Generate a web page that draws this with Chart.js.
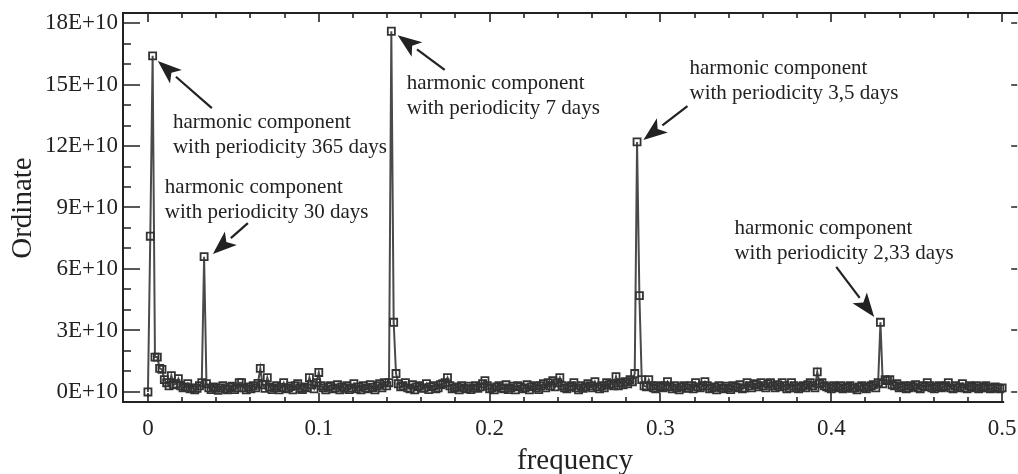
<!DOCTYPE html>
<html>
<head>
<meta charset="utf-8">
<script src="https://cdn.jsdelivr.net/npm/chart.js@4/dist/chart.umd.min.js"></script>
<style>
  html, body { margin: 0; padding: 0; background: #fff; }
  canvas { display: block; }
</style>
</head>
<body>
<canvas id="spectrum" width="1018" height="474"></canvas>
<script>
// periodogram, 730 daily samples -> frequency step 1/730, values in units of 1E+10
const SAMPLE_COUNT = 730;
const ordinate = [
  0, 7.6, 16.4, 1.7, 1.7, 1.15, 1.1, 0.6, 0.45, 0.3, 0.8, 0.35, 0.4, 0.65, 0.3, 0.2, 0.25, 0.4, 0.15, 0.2,
  0.1, 0.18, 0.3, 0.45, 6.6, 0.4, 0.2, 0.12, 0.25, 0.18, 0.08, 0.2, 0.3, 0.15, 0.1, 0.22, 0.28, 0.12, 0.2, 0.45,
  0.45, 0.2, 0.1, 0.25, 0.15, 0.3, 0.2, 0.42, 1.15, 0.35, 0.18, 0.7, 0.25, 0.12, 0.2, 0.3, 0.1, 0.22, 0.45, 0.15,
  0.2, 0.28, 0.1, 0.3, 0.4, 0.18, 0.12, 0.25, 0.2, 0.7, 0.35, 0.15, 0.45, 0.95, 0.3, 0.2, 0.1, 0.25, 0.3, 0.15,
  0.2, 0.35, 0.1, 0.25, 0.18, 0.3, 0.12, 0.2, 0.4, 0.15, 0.25, 0.1, 0.3, 0.2, 0.15, 0.35, 0.22, 0.1, 0.3, 0.4,
  0.2, 0.45, 0.3, 0.45, 17.6, 3.4, 0.9, 0.4, 0.25, 0.3, 0.45, 0.2, 0.15, 0.35, 0.1, 0.25, 0.3, 0.18, 0.2, 0.4,
  0.12, 0.25, 0.3, 0.15, 0.2, 0.35, 0.4, 0.45, 0.7, 0.3, 0.15, 0.2, 0.25, 0.1, 0.3, 0.2, 0.15, 0.28, 0.12, 0.2,
  0.3, 0.18, 0.25, 0.4, 0.55, 0.3, 0.15, 0.2, 0.1, 0.25, 0.3, 0.2, 0.15, 0.35, 0.12, 0.2, 0.28, 0.1, 0.3, 0.25,
  0.15, 0.2, 0.35, 0.1, 0.25, 0.3, 0.2, 0.12, 0.3, 0.4, 0.2, 0.45, 0.3, 0.55, 0.25, 0.45, 0.7, 0.3, 0.2, 0.15,
  0.25, 0.3, 0.45, 0.2, 0.1, 0.3, 0.18, 0.25, 0.4, 0.3, 0.2, 0.5, 0.25, 0.15, 0.3, 0.2, 0.45, 0.35, 0.4, 0.3,
  0.75, 0.3, 0.45, 0.35, 0.5, 0.4, 0.6, 0.5, 0.9, 12.2, 4.7, 0.6, 0.3, 0.25, 0.6, 0.3, 0.2, 0.15, 0.3, 0.25,
  0.2, 0.3, 0.5, 0.25, 0.15, 0.3, 0.2, 0.1, 0.25, 0.3, 0.18, 0.2, 0.3, 0.15, 0.45, 0.25, 0.2, 0.3, 0.5, 0.3,
  0.15, 0.2, 0.25, 0.1, 0.3, 0.2, 0.15, 0.28, 0.2, 0.12, 0.3, 0.25, 0.2, 0.35, 0.15, 0.2, 0.45, 0.3, 0.2, 0.4,
  0.35, 0.25, 0.45, 0.3, 0.2, 0.4, 0.45, 0.3, 0.2, 0.35, 0.25, 0.45, 0.3, 0.15, 0.2, 0.45, 0.3, 0.2, 0.15, 0.25,
  0.3, 0.2, 0.35, 0.45, 0.3, 0.2, 0.98, 0.4, 0.45, 0.3, 0.25, 0.2, 0.15, 0.3, 0.25, 0.2, 0.3, 0.15, 0.2, 0.25,
  0.3, 0.18, 0.2, 0.1, 0.25, 0.3, 0.2, 0.15, 0.25, 0.3, 0.35, 0.2, 0.45, 3.4, 0.4, 0.6, 0.55, 0.6, 0.35, 0.3,
  0.4, 0.2, 0.25, 0.3, 0.15, 0.2, 0.3, 0.25, 0.35, 0.2, 0.15, 0.3, 0.25, 0.45, 0.3, 0.2, 0.15, 0.25, 0.3, 0.2,
  0.25, 0.3, 0.45, 0.2, 0.15, 0.3, 0.2, 0.25, 0.4, 0.2, 0.15, 0.3, 0.25, 0.2, 0.3, 0.15, 0.2, 0.25, 0.3, 0.2,
  0.15, 0.2, 0.25, 0.2, 0.15, 0.2
];
const frequency = ordinate.map((_, k) => k / SAMPLE_COUNT);

const xTicks = [0, 0.1, 0.2, 0.3, 0.4, 0.5];
const xTickLabels = ['0', '0.1', '0.2', '0.3', '0.4', '0.5'];
const yTicks = [0, 3, 6, 9, 12, 15, 18];
const yTickLabels = ['0E+10', '3E+10', '6E+10', '9E+10', '12E+10', '15E+10', '18E+10'];

// callouts: text anchor and arrow ends in data units
const notes = [
  { lines: ['harmonic component', 'with periodicity 365 days'], at: [0.0146, 13.17], from: [0.0374, 13.85], to: [0.0058, 16.15] },
  { lines: ['harmonic component', 'with periodicity 30 days'], at: [0.0099, 10.0], from: [0.0585, 8.24], to: [0.038, 6.73] },
  { lines: ['harmonic component', 'with periodicity 7 days'], at: [0.1515, 15.07], from: [0.1737, 15.71], to: [0.1462, 17.41] },
  { lines: ['harmonic component', 'with periodicity 3,5 days'], at: [0.317, 15.8], from: [0.3158, 13.95], to: [0.290, 12.29] },
  { lines: ['harmonic component', 'with periodicity 2,33 days'], at: [0.3433, 8.0], from: [0.4029, 6.1], to: [0.4251, 3.66] }
];

const SERIF = '"Liberation Serif", "DejaVu Serif", serif';
const INK = '#222';

const frame = {
  id: 'frame',
  afterDatasetsDraw(chart) {
    const { ctx, chartArea: a, scales: { x, y } } = chart;
    ctx.save();
    ctx.strokeStyle = INK;
    ctx.lineWidth = 2;
    ctx.beginPath();
    ctx.moveTo(a.left, a.top); ctx.lineTo(chart.width, a.top);
    ctx.moveTo(a.left, a.top - 1); ctx.lineTo(a.left, a.bottom + 1);
    ctx.moveTo(a.left, a.bottom); ctx.lineTo(x.getPixelForValue(0.5) + 2, a.bottom);
    ctx.stroke();

    ctx.lineWidth = 1.6;
    ctx.beginPath();
    for (let i = 0; i <= 25; i++) {
      const px = Math.round(x.getPixelForValue(i * 0.02));
      const len = i % 5 === 0 ? 9 : 5;
      ctx.moveTo(px, a.bottom); ctx.lineTo(px, a.bottom - len);
      ctx.moveTo(px, a.top); ctx.lineTo(px, a.top + len);
    }
    for (let v = 0; v <= 18; v++) {
      const py = Math.round(y.getPixelForValue(v));
      const len = v % 3 === 0 ? 17 : 8;
      ctx.moveTo(a.left, py); ctx.lineTo(a.left + len, py);
      if (v % 3 === 0) { ctx.moveTo(a.right, py); ctx.lineTo(a.right + 6, py); }
    }
    ctx.stroke();

    ctx.fillStyle = INK;
    ctx.font = '29px ' + SERIF;
    ctx.textAlign = 'center';
    ctx.textBaseline = 'middle';
    ctx.fillText('frequency', 575, 461);
    ctx.translate(23, 208);
    ctx.rotate(-Math.PI / 2);
    ctx.fillText('Ordinate', 0, 0);
    ctx.restore();
  }
};

const callouts = {
  id: 'callouts',
  afterDraw(chart) {
    const { ctx, scales: { x, y } } = chart;
    ctx.save();
    ctx.fillStyle = INK;
    ctx.strokeStyle = INK;
    ctx.font = '21px ' + SERIF;
    ctx.textAlign = 'left';
    ctx.textBaseline = 'middle';
    notes.forEach(n => {
      const tx = x.getPixelForValue(n.at[0]), ty = y.getPixelForValue(n.at[1]);
      n.lines.forEach((s, i) => ctx.fillText(s, tx, ty + i * 25));
      const x0 = x.getPixelForValue(n.from[0]), y0 = y.getPixelForValue(n.from[1]);
      const x1 = x.getPixelForValue(n.to[0]), y1 = y.getPixelForValue(n.to[1]);
      const ang = Math.atan2(y1 - y0, x1 - x0);
      const head = 24, half = 9;
      const bx = x1 - head * Math.cos(ang), by = y1 - head * Math.sin(ang);
      ctx.lineWidth = 2.2;
      ctx.beginPath();
      ctx.moveTo(x0, y0); ctx.lineTo(bx, by);
      ctx.stroke();
      ctx.beginPath();
      ctx.moveTo(x1, y1);
      ctx.lineTo(bx + half * Math.sin(ang), by - half * Math.cos(ang));
      ctx.lineTo(x1 - (head - 6) * Math.cos(ang), y1 - (head - 6) * Math.sin(ang));
      ctx.lineTo(bx - half * Math.sin(ang), by + half * Math.cos(ang));
      ctx.closePath();
      ctx.fill();
    });
    ctx.restore();
  }
};

const noEdgePadding = s => {
  s.paddingLeft = 0; s.paddingRight = 0; s.paddingTop = 0; s.paddingBottom = 0;
};

new Chart(document.getElementById('spectrum'), {
  type: 'line',
  data: {
    datasets: [{
      label: 'Ordinate',
      data: frequency.map((f, k) => ({ x: f, y: ordinate[k] })),
      borderColor: '#4a4a4a',
      borderWidth: 2,
      pointStyle: 'rect',
      pointRadius: 5,
      pointBorderWidth: 1.8,
      pointBorderColor: '#333',
      pointBackgroundColor: 'rgba(255,255,255,0)',
      tension: 0
    }]
  },
  options: {
    responsive: false,
    animation: false,
    devicePixelRatio: 1,
    layout: { padding: { top: 13, right: 6, left: 0, bottom: 0 } },
    plugins: { legend: { display: false }, tooltip: { enabled: false } },
    scales: {
      x: {
        type: 'linear',
        min: -0.0146,
        max: 0.5053,
        grid: { display: false, drawTicks: false },
        border: { display: false },
        afterBuildTicks: s => { s.ticks = xTicks.map(v => ({ value: v })); },
        afterFit: s => { s.height = 72; noEdgePadding(s); },
        ticks: {
          padding: 13,
          maxRotation: 0,
          color: INK,
          font: { family: SERIF, size: 23 },
          callback: v => xTickLabels[xTicks.indexOf(v)]
        }
      },
      y: {
        min: -0.49,
        max: 18.49,
        grid: { display: false, drawTicks: false },
        border: { display: false },
        afterBuildTicks: s => { s.ticks = yTicks.map(v => ({ value: v })); },
        afterFit: s => { s.width = 123; noEdgePadding(s); },
        ticks: {
          padding: 5,
          color: INK,
          font: { family: SERIF, size: 23 },
          callback: v => yTickLabels[yTicks.indexOf(v)]
        }
      }
    }
  },
  plugins: [frame, callouts]
});
</script>
</body>
</html>
